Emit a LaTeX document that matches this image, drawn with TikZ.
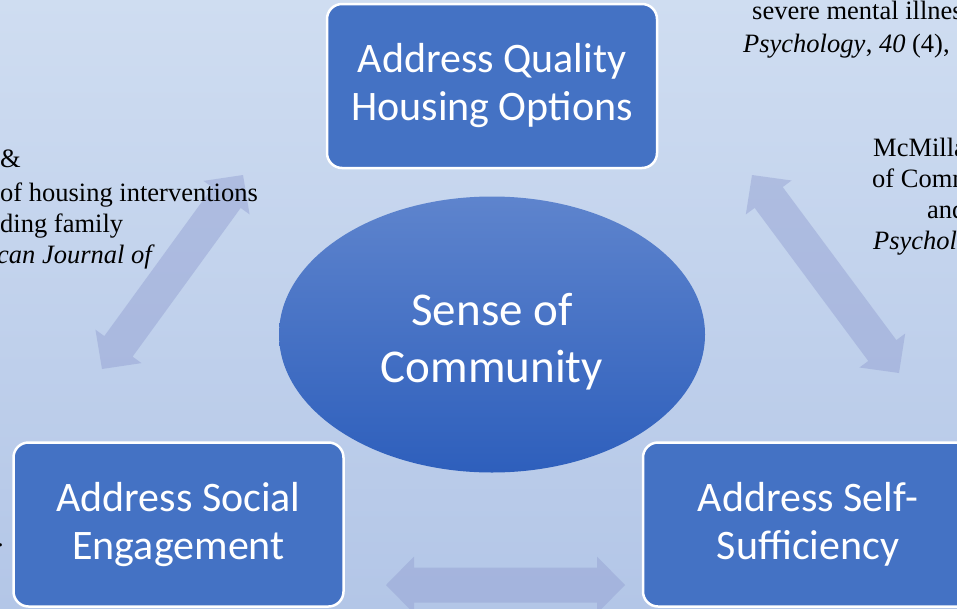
\documentclass[tikz,border=0pt]{standalone}
\usepackage{fontspec}
\setmainfont{Liberation Serif}
\newfontfamily\boxfont{Carlito}
\usetikzlibrary{calc,shapes.geometric}

\definecolor{boxblue}{HTML}{4472C4}
\definecolor{bgtop}{RGB}{207,221,241}
\definecolor{bgbottom}{RGB}{179,198,231}
\definecolor{ovaltop}{RGB}{94,132,205}
\definecolor{ovalbottom}{RGB}{46,95,188}
\definecolor{arrowblue}{RGB}{150,163,212}

% wide double arrow between two named points
\newcommand{\fatarrow}[2]{%
  \coordinate (fa1) at ($(#1)!28pt!(#2)$);
  \coordinate (fa2) at ($(#2)!28pt!(#1)$);
  \fill[arrowfill] (#1) -- ($(fa1)!28.5pt!90:(#2)$) -- ($(fa1)!17.5pt!90:(#2)$)
    -- ($(fa2)!17.5pt!-90:(#1)$) -- ($(fa2)!28.5pt!-90:(#1)$) -- (#2)
    -- ($(fa2)!28.5pt!90:(#1)$) -- ($(fa2)!17.5pt!90:(#1)$)
    -- ($(fa1)!17.5pt!-90:(#2)$) -- ($(fa1)!28.5pt!-90:(#2)$) -- cycle;
}

\begin{document}
\begin{tikzpicture}[x=1pt, y=-1pt,
    boxnode/.style={rectangle, rounded corners=15pt, fill=boxblue, draw=white,
      line width=2.5pt, text=white, align=center, inner sep=0pt,
      minimum width=330pt, minimum height=164pt,
      font=\boxfont\fontsize{42}{48}\selectfont},
    oval/.style={ellipse, minimum width=426pt, minimum height=276pt,
      top color=ovaltop, bottom color=ovalbottom, draw=none},
    ovaltext/.style={text=white, align=center,
      font=\boxfont\fontsize{47}{57}\selectfont},
    reftext/.style={anchor=base west, inner sep=0pt,
      font=\fontsize{26.5}{32}\selectfont},
    arrowfill/.style={fill=arrowblue, fill opacity=0.5}]

    \useasboundingbox (0,0) rectangle (957,608);
    \clip (0,0) rectangle (957,608);
    \shade[top color=bgtop, bottom color=bgbottom] (0,0) rectangle (957,608);

    % arrow ends
    \coordinate (lt) at (243,175);
    \coordinate (lb) at (102,369);
    \coordinate (rt) at (752,175);
    \coordinate (rb) at (899,373);
    \coordinate (bl) at (386,585);
    \coordinate (br) at (625,585);

    \fatarrow{lt}{lb}
    \fatarrow{rt}{rb}
    \fatarrow{bl}{br}

    % reference fragments
    \node[reftext] (la) at (0,167) {\&};
    \node[reftext] (lb1) at (0,201) {of housing interventions};
    \node[reftext] (lc) at (0,232) {ding family};
    \node[reftext] (ld) at (-3,263) {\itshape can Journal of};

    \node[reftext] (ta) at (752,19) {severe mental illnes};
    \node[reftext] (tb) at (743,52) {\itshape Psychology}; 
    \node[reftext, anchor=base west] (tc) at (tb.base east) {, \textit{40} (4),};

    \node[reftext] (ra) at (873,156) {McMilla};
    \node[reftext] (rb1) at (872,187) {of Comm};
    \node[reftext] (rc) at (927,218) {and};
    \node[reftext] (rd) at (873,249) {\itshape Psychol};

    \node[reftext] (dot) at (-3,546) {.};

    % main shapes
    \node[boxnode] (housing) at (492,86) {Address Quality\\Housing Options};
    \node[boxnode] (social) at (178.5,524.5) {Address Social\\Engagement};
    \node[boxnode] (selfsuff) at (808,524.5) {Address Self-\\Sufficiency};
    \node[oval] (community) at (492,334.5) {};
    \node[ovaltext] (communitytext) at ([yshift=-7pt]community.center) {Sense of\\Community};

\end{tikzpicture}
\end{document}
